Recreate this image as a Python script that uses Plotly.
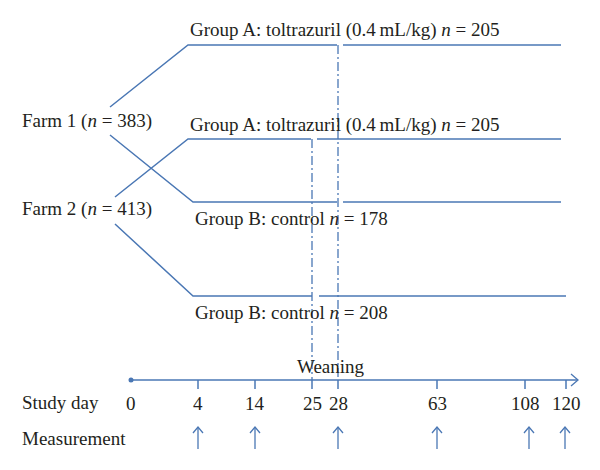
import plotly.graph_objects as go

# ---- data ----
study_days = [0, 4, 14, 25, 28, 63, 108, 120]
day_x = [131, 198, 255, 312, 338, 437, 525, 566]          # timeline position of each study day
measurement_days = [4, 14, 28, 63, 108, 120]
measurement_x = [198, 255, 338, 437, 529, 565]
farms = ["Farm 1 (<i>n</i> = 383)", "Farm 2 (<i>n</i> = 413)"]
farm_y = [121, 209]
groups = [
    "Group A: toltrazuril (0.4\u2009mL/kg) <i>n</i> = 205",
    "Group A: toltrazuril (0.4\u2009mL/kg) <i>n</i> = 205",
    "Group B: control <i>n</i> = 178",
    "Group B: control <i>n</i> = 208",
]
group_line_y = [45, 139, 202, 296]
group_start_x = [188, 188, 193, 193]
group_end_x = [561, 561, 561, 566]
group_gap = [(337, 343), (311, 317), (337, 343), (312, 319)]
group_text_y = [30, 125, 218, 312]
branch_from = [(110, 107), (115, 197), (110, 135), (115, 224)]   # farm -> group

BLUE = "#4a77b4"
TXT = "#231f20"
FONT = "Liberation Serif"
FS = 19

fig = go.Figure()

xs, ys = [], []
for sx, ex, y, (g0, g1), (fx, fy) in zip(group_start_x, group_end_x, group_line_y, group_gap, branch_from):
    xs += [fx, sx, g0, None, g1, ex, None]
    ys += [fy, y, y, None, y, y, None]
fig.add_trace(go.Scatter(x=xs, y=ys, mode="lines", line=dict(color=BLUE, width=1.5),
                         hoverinfo="skip", showlegend=False))

wean_days = [25, 28]
wean_top = [139, 45]
for d, t in zip(wean_days, wean_top):
    x = day_x[study_days.index(d)]
    fig.add_trace(go.Scatter(x=[x, x], y=[t, 380], mode="lines",
                             line=dict(color=BLUE, width=1.3, dash="9px,3px,2px,3px"),
                             hoverinfo="skip", showlegend=False))

axis_y = 380
fig.add_trace(go.Scatter(x=[day_x[0], 577], y=[axis_y, axis_y], mode="lines",
                         line=dict(color=BLUE, width=1.5), hoverinfo="skip", showlegend=False))
fig.add_trace(go.Scatter(x=[571, 578, 571], y=[374, axis_y, 386], mode="lines",
                         line=dict(color=BLUE, width=1.3), hoverinfo="skip", showlegend=False))
fig.add_trace(go.Scatter(x=[day_x[0]], y=[axis_y], mode="markers",
                         marker=dict(color=BLUE, size=5), hoverinfo="skip", showlegend=False))
tx, ty = [], []
for x in day_x[1:]:
    tx += [x, x, None]
    ty += [axis_y, axis_y + 9, None]
fig.add_trace(go.Scatter(x=tx, y=ty, mode="lines", line=dict(color=BLUE, width=1.5),
                         hoverinfo="skip", showlegend=False))

ax, ay = [], []
for x in measurement_x:
    ax += [x, x, None, x - 5, x, x + 5, None]
    ay += [449, 427, None, 433, 427, 433, None]
fig.add_trace(go.Scatter(x=ax, y=ay, mode="lines", line=dict(color=BLUE, width=1.3),
                         hoverinfo="skip", showlegend=False))

def text(x, y, s, anchor="left"):
    fig.add_annotation(x=x, y=y, text=s, showarrow=False, xanchor=anchor, yanchor="middle",
                       font=dict(family=FONT, size=FS, color=TXT))

for s, y in zip(farms, farm_y):
    text(20, y, s)
for s, x, y in zip(groups, group_start_x, group_text_y):
    text(x, y, s)
text(20, 402, "Study day")
text(20, 438, "Measurement")
text(331, 366, "Weaning", "center")
for d, x in zip(study_days, day_x):
    text(x, 403, str(d), "center")

# page has an 8px body margin: shift the canvas so coordinates match the window
fig.update_layout(
    width=592, height=462, margin=dict(l=0, r=0, t=0, b=0),
    plot_bgcolor="white", paper_bgcolor="white",
    xaxis=dict(range=[8, 600], visible=False, fixedrange=True),
    yaxis=dict(range=[470, 8], visible=False, fixedrange=True),
)
fig.write_html("out.html")
